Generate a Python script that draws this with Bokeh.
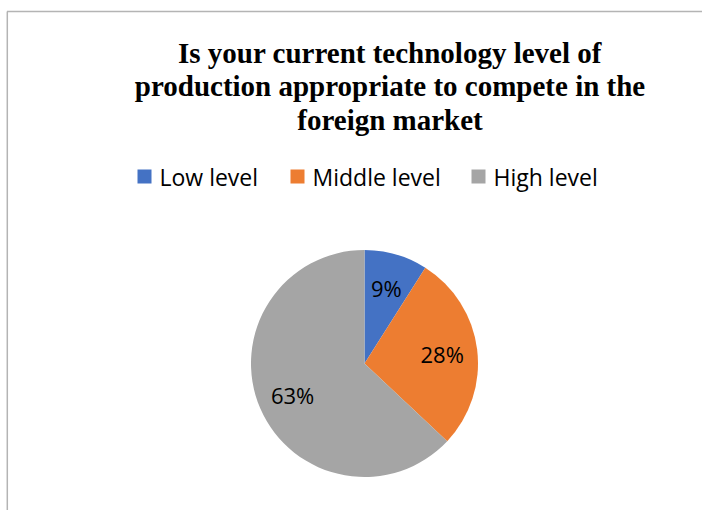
import math
from bokeh.plotting import figure
from bokeh.models import Range1d, ColumnDataSource
from bokeh.core.properties import value
from bokeh.embed import file_html
from bokeh.resources import INLINE

# ---- data ----
categories = ["Low level", "Middle level", "High level"]
shares = [9, 28, 63]                      # percent
colors = ["#4472C4", "#ED7D31", "#A5A5A5"]
title_lines = ["Is your current technology level of",
               "production appropriate to compete in the",
               "foreign market"]

# ---- layout (screenshot pixel coordinates; data y = -pixel y) ----
W, H = 702, 510
cx, cy, R = 364, 363, 113.5
label_frac = 0.69

p = figure(width=W, height=H, output_backend="svg", toolbar_location=None,
           x_range=Range1d(0, W), y_range=Range1d(-H, 0),
           x_axis_location=None, y_axis_location=None, min_border=0,
           outline_line_color=None, background_fill_color="white",
           border_fill_color="white")
p.grid.visible = False

# chart border (top and left visible in reference)
p.line(x=[6.5, W], y=[-11, -11], line_color="#B4B4B4", line_width=1.5)
p.line(x=[6.8, 6.8], y=[-11, -H], line_color="#B4B4B4", line_width=1.5)

# ---- pie ----
total = float(sum(shares))
starts, ends, lx, ly, labels = [], [], [], [], []
a = math.pi / 2
for s in shares:
    span = 2 * math.pi * s / total
    starts.append(a)
    ends.append(a - span)
    mid = a - span / 2
    lx.append(cx + label_frac * R * math.cos(mid))
    ly.append(-cy + label_frac * R * math.sin(mid))
    labels.append(f"{round(100 * s / total)}%")
    a -= span

src = ColumnDataSource(dict(start=starts, end=ends, color=colors))
p.wedge(x=cx, y=-cy, radius=R, start_angle="start", end_angle="end",
        direction="clock", fill_color="color", line_color=None, source=src)

p.text(x=lx, y=ly, text=labels, text_align="center", text_baseline="middle",
       text_font=value("Open Sans"), text_font_size="22px", text_color="#000000")

# ---- title ----
title_x = 389.5
title_mid = [52, 85.5, 119]
p.text(x=[title_x] * len(title_lines), y=[-b for b in title_mid], text=title_lines,
       text_align="center", text_baseline="middle",
       text_font=value("Liberation Serif"), text_font_style="bold",
       text_font_size="29px", text_color="#000000")

# ---- legend ----
leg_x = [137, 290, 471]
leg_y = 176
sq = 14
p.rect(x=[x + sq / 2 for x in leg_x], y=[-leg_y] * 3, width=sq, height=sq,
       fill_color=colors, line_color=None)
p.text(x=[x + sq + 8 for x in leg_x], y=[-(leg_y + 0.5)] * 3, text=categories,
       text_align="left", text_baseline="middle",
       text_font=value("Open Sans"), text_font_size="23px", text_color="#000000")

open("out.html", "w").write(file_html(p, INLINE))
